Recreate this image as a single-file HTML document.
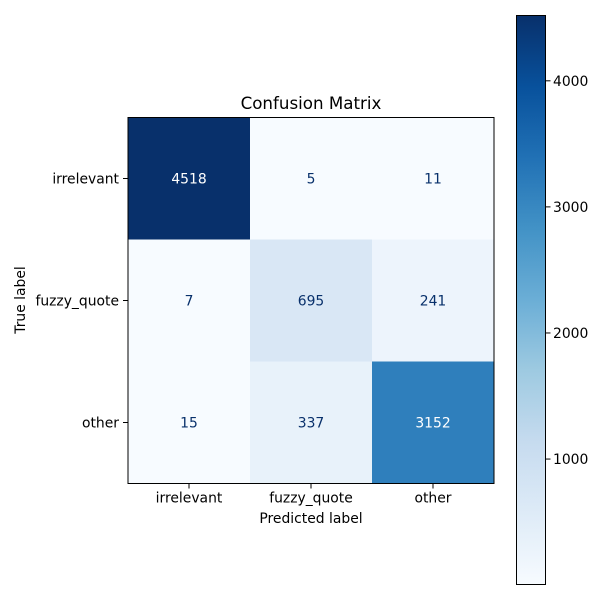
<!DOCTYPE html>
<html><head><meta charset="utf-8"><style>
body{margin:0;background:#fff;}
svg text{font-family:"DejaVu Sans","Liberation Sans",sans-serif;}
</style></head><body>
<svg id="chart" width="600" height="600" xmlns="http://www.w3.org/2000/svg">
<defs>
<linearGradient id="blues" x1="0" y1="1" x2="0" y2="0">
<stop offset="0" stop-color="#f7fbff"/><stop offset="0.125" stop-color="#deebf7"/><stop offset="0.25" stop-color="#c6dbef"/><stop offset="0.375" stop-color="#9ecae1"/><stop offset="0.5" stop-color="#6baed6"/><stop offset="0.625" stop-color="#4292c6"/><stop offset="0.75" stop-color="#2171b5"/><stop offset="0.875" stop-color="#08519c"/><stop offset="1" stop-color="#08306b"/>
</linearGradient>
</defs>
<text x="311" y="109" font-size="16.7" text-anchor="middle">Confusion Matrix</text>
<g id="cells"></g>
<rect x="128" y="117.5" width="366" height="366" fill="none" stroke="#000" stroke-width="1"/>
<g id="axes"></g>
<text x="311" y="523" font-size="13.9" text-anchor="middle">Predicted label</text>
<text x="25" y="300" font-size="13.9" text-anchor="middle" transform="rotate(-90 25 300)">True label</text>
<rect x="516.5" y="15.5" width="29" height="569" fill="url(#blues)" stroke="#000" stroke-width="1"/>
<g id="cbticks"></g>
</svg>
<script>
const labels = ["irrelevant","fuzzy_quote","other"];
const matrix = [[4518,5,11],[7,695,241],[15,337,3152]];
const cbTicks = [1000,2000,3000,4000];
const stops = ["#f7fbff","#deebf7","#c6dbef","#9ecae1","#6baed6","#4292c6","#2171b5","#08519c","#08306b"];
const NS="http://www.w3.org/2000/svg";
const X0=128,Y0=117.5,S=366,n=labels.length,cw=S/n;
const all=matrix.flat(),vmin=Math.min(...all),vmax=Math.max(...all);
function hex(h){return [1,3,5].map(i=>parseInt(h.substr(i,2),16));}
function color(v){let t=(v-vmin)/(vmax-vmin);t=Math.max(0,Math.min(1,t))*(stops.length-1);
 const i=Math.min(Math.floor(t),stops.length-2),f=t-i,a=hex(stops[i]),b=hex(stops[i+1]);
 return "rgb("+a.map((c,k)=>Math.round(c+(b[k]-c)*f)).join(",")+")";}
function el(tag,attrs,parent){const e=document.createElementNS(NS,tag);for(const k in attrs)e.setAttribute(k,attrs[k]);parent.appendChild(e);return e;}
const cells=document.getElementById("cells"),axes=document.getElementById("axes"),cb=document.getElementById("cbticks");
const mid=(vmin+vmax)/2;
matrix.forEach((row,r)=>row.forEach((v,c)=>{
 const rc=el("rect",{x:X0+c*cw,y:Y0+r*cw,width:cw+0.5,height:cw+0.5,fill:color(v)},cells);
 
 
 const t=el("text",{x:X0+(c+0.5)*cw,y:Y0+(r+0.5)*cw+5,"font-size":13.9,"text-anchor":"middle",fill:v>mid?"#ffffff":"#08306b"},cells);
 t.textContent=v;
 
 
}));
labels.forEach((l,i)=>{
 const cx=X0+(i+0.5)*cw;
 el("line",{x1:cx,x2:cx,y1:Y0+S,y2:Y0+S+5,stroke:"#000"},axes);
 const tx=el("text",{x:cx,y:Y0+S+19,"font-size":13.9,"text-anchor":"middle"},axes);
 tx.textContent=l;
 
 
 const cy=Y0+(i+0.5)*cw;
 el("line",{x1:X0-5,x2:X0,y1:cy,y2:cy,stroke:"#000"},axes);
 const ty=el("text",{x:X0-9,y:cy+5,"font-size":13.9,"text-anchor":"end"},axes);
 ty.textContent=l;
 
 
});
const CB0=584.5,CB1=15.5;
function cby(v){return CB0-(v-vmin)/(vmax-vmin)*(CB0-CB1);}
cbTicks.forEach(v=>{
 const y=cby(v);
 el("line",{x1:545.5,x2:550.5,y1:y,y2:y,stroke:"#000"},cb);
 const t=el("text",{x:553,y:y+5,"font-size":13.9},cb);
 t.textContent=v;
 
 
});
</script>
</body></html>
